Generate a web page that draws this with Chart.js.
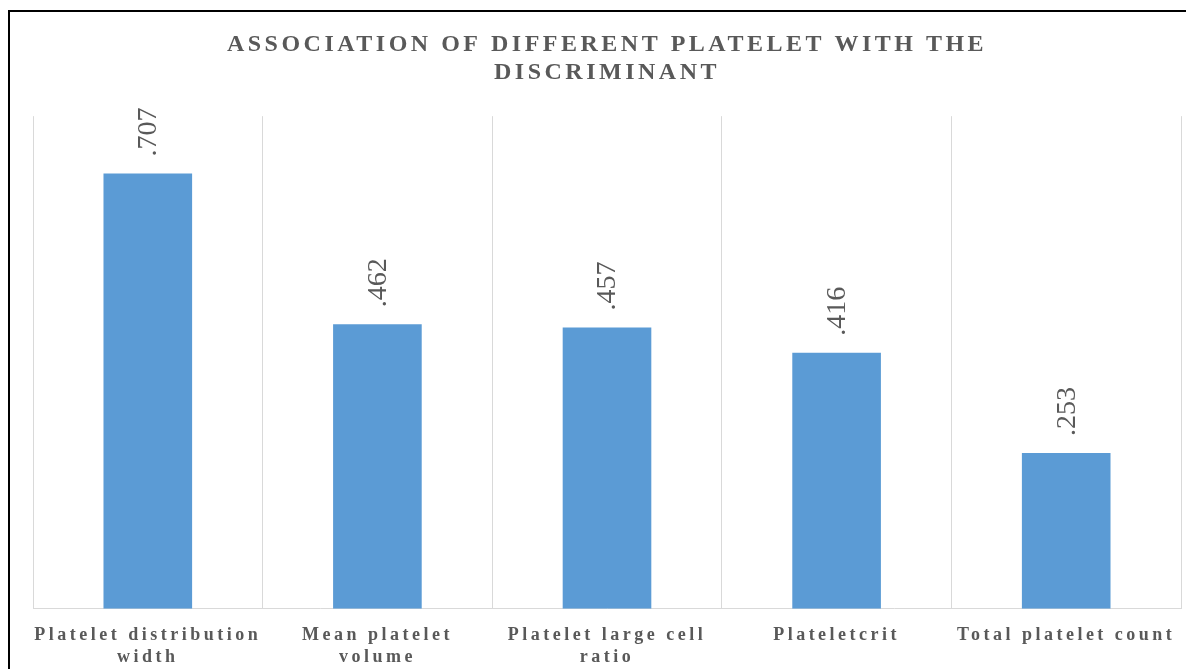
<!DOCTYPE html>
<html>
<head>
<meta charset="utf-8">
<script src="https://cdn.jsdelivr.net/npm/chart.js@4/dist/chart.umd.min.js"></script>
<style>
  html, body { margin: 0; padding: 0; background: #fff; overflow: hidden; }
  #frame {
    position: absolute; left: 8px; top: 10px; width: 1300px; height: 800px;
    border-left: 2px solid #000; border-top: 2px solid #000;
  }
  #wrap { position: absolute; left: 0; top: 0; width: 1186px; height: 669px; }
</style>
</head>
<body>
<div id="frame"></div>
<div id="wrap"><canvas id="c" width="1186" height="669"></canvas></div>
<script>
// Platelet indices and their association with the discriminant
const categories = [
  ["Platelet distribution", "width"],
  ["Mean platelet", "volume"],
  ["Platelet large cell", "ratio"],
  "Plateletcrit",
  "Total platelet count"
];
const values = [0.707, 0.462, 0.457, 0.416, 0.253];
const titleLines = ["ASSOCIATION OF DIFFERENT PLATELET WITH THE", "DISCRIMINANT"];

const GREY = "#595959";
const fmt = v => v.toFixed(3).replace(/^0/, "");

// Letter-spaced text for the title and category labels
const spacing = {
  id: "spacing",
  beforeDraw(chart) { chart.ctx.letterSpacing = "3.5px"; },
  beforeDatasetsDraw(chart) { chart.ctx.letterSpacing = "0px"; }
};

// Rotated value labels above each bar
const valueLabels = {
  id: "valueLabels",
  afterDatasetsDraw(chart) {
    const ctx = chart.ctx;
    const meta = chart.getDatasetMeta(0);
    meta.data.forEach((bar, i) => {
      ctx.save();
      ctx.letterSpacing = "0px";
      ctx.translate(bar.x, bar.y - 17);
      ctx.rotate(-Math.PI / 2);
      ctx.font = "28px 'Liberation Serif'";
      ctx.fillStyle = GREY;
      ctx.textAlign = "left";
      ctx.textBaseline = "middle";
      ctx.fillText(fmt(values[i]), 0, 1);
      ctx.restore();
    });
  }
};

new Chart(document.getElementById("c"), {
  type: "bar",
  data: {
    labels: categories,
    datasets: [{
      data: values,
      backgroundColor: "#5B9BD5",
      borderWidth: 0,
      categoryPercentage: 1,
      barPercentage: 0.386
    }]
  },
  plugins: [spacing, valueLabels],
  options: {
    responsive: false,
    animation: false,
    devicePixelRatio: 1,
    layout: { padding: { left: 33, right: 5, top: 0, bottom: -15 } },
    plugins: {
      legend: { display: false },
      tooltip: { enabled: false },
      title: {
        display: true,
        text: titleLines,
        color: GREY,
        font: { family: "'Liberation Serif'", size: 24, weight: "bold", lineHeight: 1.17 },
        padding: { top: 31, bottom: 29 }
      }
    },
    scales: {
      x: {
        grid: { display: true, color: "#d9d9d9", lineWidth: 1, drawTicks: false, offset: true },
        border: { display: true, color: "#d9d9d9", width: 1 },
        ticks: {
          color: GREY,
          font: { family: "'Liberation Serif'", size: 18, weight: "bold", lineHeight: 1.2 },
          padding: 16,
          maxRotation: 0,
          autoSkip: false
        }
      },
      y: {
        display: false,
        min: 0,
        max: 0.8
      }
    }
  }
});
</script>
</body>
</html>
